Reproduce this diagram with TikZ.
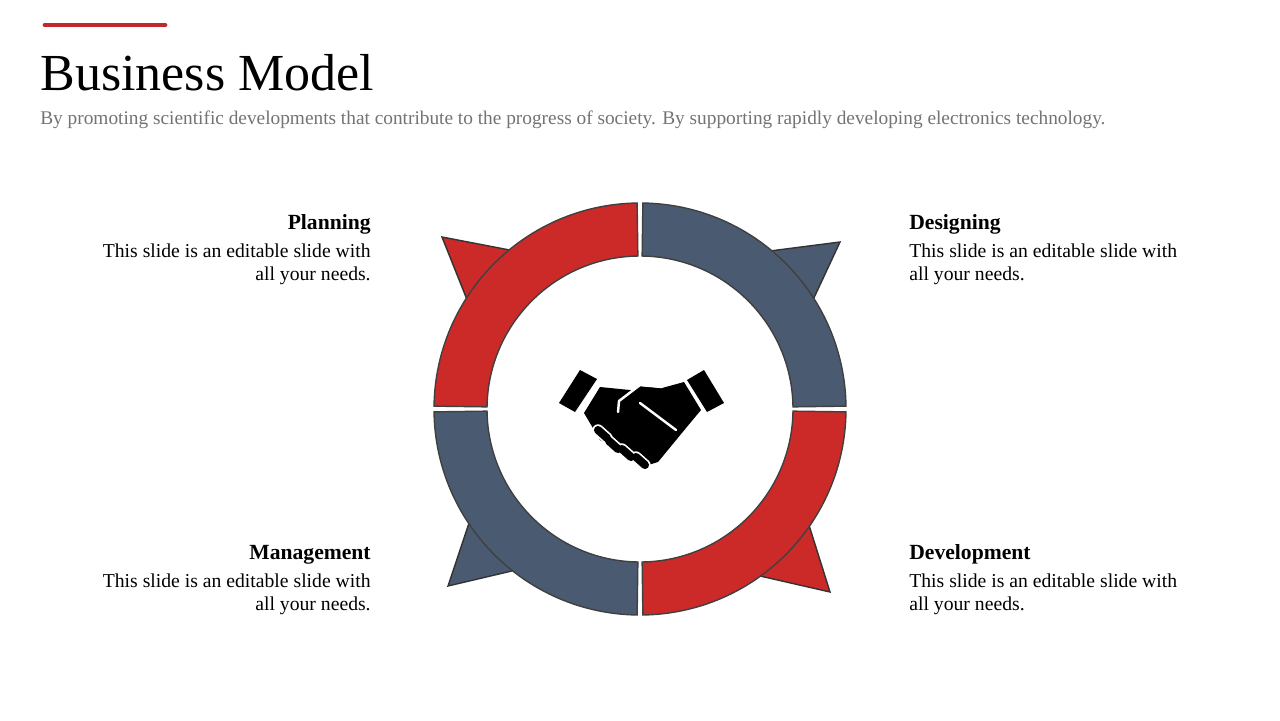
\documentclass[tikz,border=0pt]{standalone}
\usepackage{fontspec}
\usetikzlibrary{calc}
\setmainfont{Liberation Serif}
\definecolor{myred}{HTML}{CC2A29}
\definecolor{myblue}{HTML}{4A5A70}
\definecolor{bar}{HTML}{C0282D}
\begin{document}
\begin{tikzpicture}[x=0.02cm,y=-0.02cm,
 seg/.style={draw=black!75,line width=0.8pt},
 pt/.style={draw=black!80,line width=0.8pt,line join=miter},
 head/.style={font=\fontsize{12.3}{13}\selectfont\bfseries,inner sep=0},
 body/.style={font=\fontsize{11.2}{13.6}\selectfont,inner sep=0}]
\useasboundingbox (0,0) rectangle (1280,720);
\draw[bar,line width=2.8pt,line cap=round] (45,25) -- (165,25);
\node[anchor=base west,inner sep=0,font=\fontsize{29.6}{30}\selectfont] (title) at (40,90) {Business Model};
\node[anchor=base west,inner sep=0,text=black!55,font=\fontsize{11}{12}\selectfont] (sub) at (40,124) {By promoting scientific developments that contribute to the progress of society. By supporting rapidly developing electronics technology.};
% pointers
\filldraw[pt,fill=myred] (442,237) -- (520,252) -- (468,302) -- cycle;
\filldraw[pt,fill=myblue] (840,242) -- (812,302) -- (762,252) -- cycle;
\filldraw[pt,fill=myred] (830,592) -- (760,576) -- (808,522) -- cycle;
\filldraw[pt,fill=myblue] (448,586) -- (470,520) -- (516,570) -- cycle;
% ring
\coordinate (c) at (640,409);
\filldraw[seg,fill=myred] ($(c)+(-90.8:206)$) arc[start angle=-90.8,end angle=-179.2,radius=206] -- ($(c)+(-179.2:153)$) arc[start angle=-179.2,end angle=-90.8,radius=153] -- cycle;
\filldraw[seg,fill=myblue] ($(c)+(-89.2:206)$) arc[start angle=-89.2,end angle=-0.8,radius=206] -- ($(c)+(-0.8:153)$) arc[start angle=-0.8,end angle=-89.2,radius=153] -- cycle;
\filldraw[seg,fill=myred] ($(c)+(0.8:206)$) arc[start angle=0.8,end angle=89.2,radius=206] -- ($(c)+(89.2:153)$) arc[start angle=89.2,end angle=0.8,radius=153] -- cycle;
\filldraw[seg,fill=myblue] ($(c)+(90.8:206)$) arc[start angle=90.8,end angle=179.2,radius=206] -- ($(c)+(179.2:153)$) arc[start angle=179.2,end angle=90.8,radius=153] -- cycle;
% handshake
\fill (559,403) -- (580,370) -- (597,379) -- (575,412) -- cycle;
\fill (687,380) -- (704,370) -- (724,403) -- (707,412) -- cycle;
\fill (584,413) -- (600,387) -- (630,390) -- (660,400) -- (682,424) -- (660,445) -- (642,462) -- (600,440) -- cycle;
\fill (684,382) -- (701,410) -- (686,428) -- (658,462) -- (645,466) -- (640,455) -- (672,426) -- (646,402) -- (630,414) -- (619,408) -- (619,400) -- (640,386) -- (662,388) -- cycle;
\draw[white,line width=1.4pt,line join=round,line cap=round] (618,412) -- (619,401) -- (640,385) -- (662,387) (640,403) -- (676,430);
\foreach \a/\b in {598/430, 609/441, 622/449, 636/457}
 \draw[white,line width=6.5pt,line cap=round] (\a,\b) -- (\a+9,\b+8);
\foreach \a/\b in {598/430, 609/441, 622/449, 636/457}
 \draw[black,line width=4.6pt,line cap=round] (\a,\b) -- (\a+9,\b+8);
% texts
\node[head,anchor=base east] (h1) at (371,229) {Planning};
\node[body,anchor=north east,align=right] (b1) at (371,243) {This slide is an editable slide with\\all your needs.};
\node[head,anchor=base west] (h2) at (909,229) {Designing};
\node[body,anchor=north west,align=left] (b2) at (909,243) {This slide is an editable slide with\\all your needs.};
\node[head,anchor=base east] (h3) at (371,559) {Management};
\node[body,anchor=north east,align=right] (b3) at (371,573) {This slide is an editable slide with\\all your needs.};
\node[head,anchor=base west] (h4) at (909,559) {Development};
\node[body,anchor=north west,align=left] (b4) at (909,573) {This slide is an editable slide with\\all your needs.};
\end{tikzpicture}
\end{document}
